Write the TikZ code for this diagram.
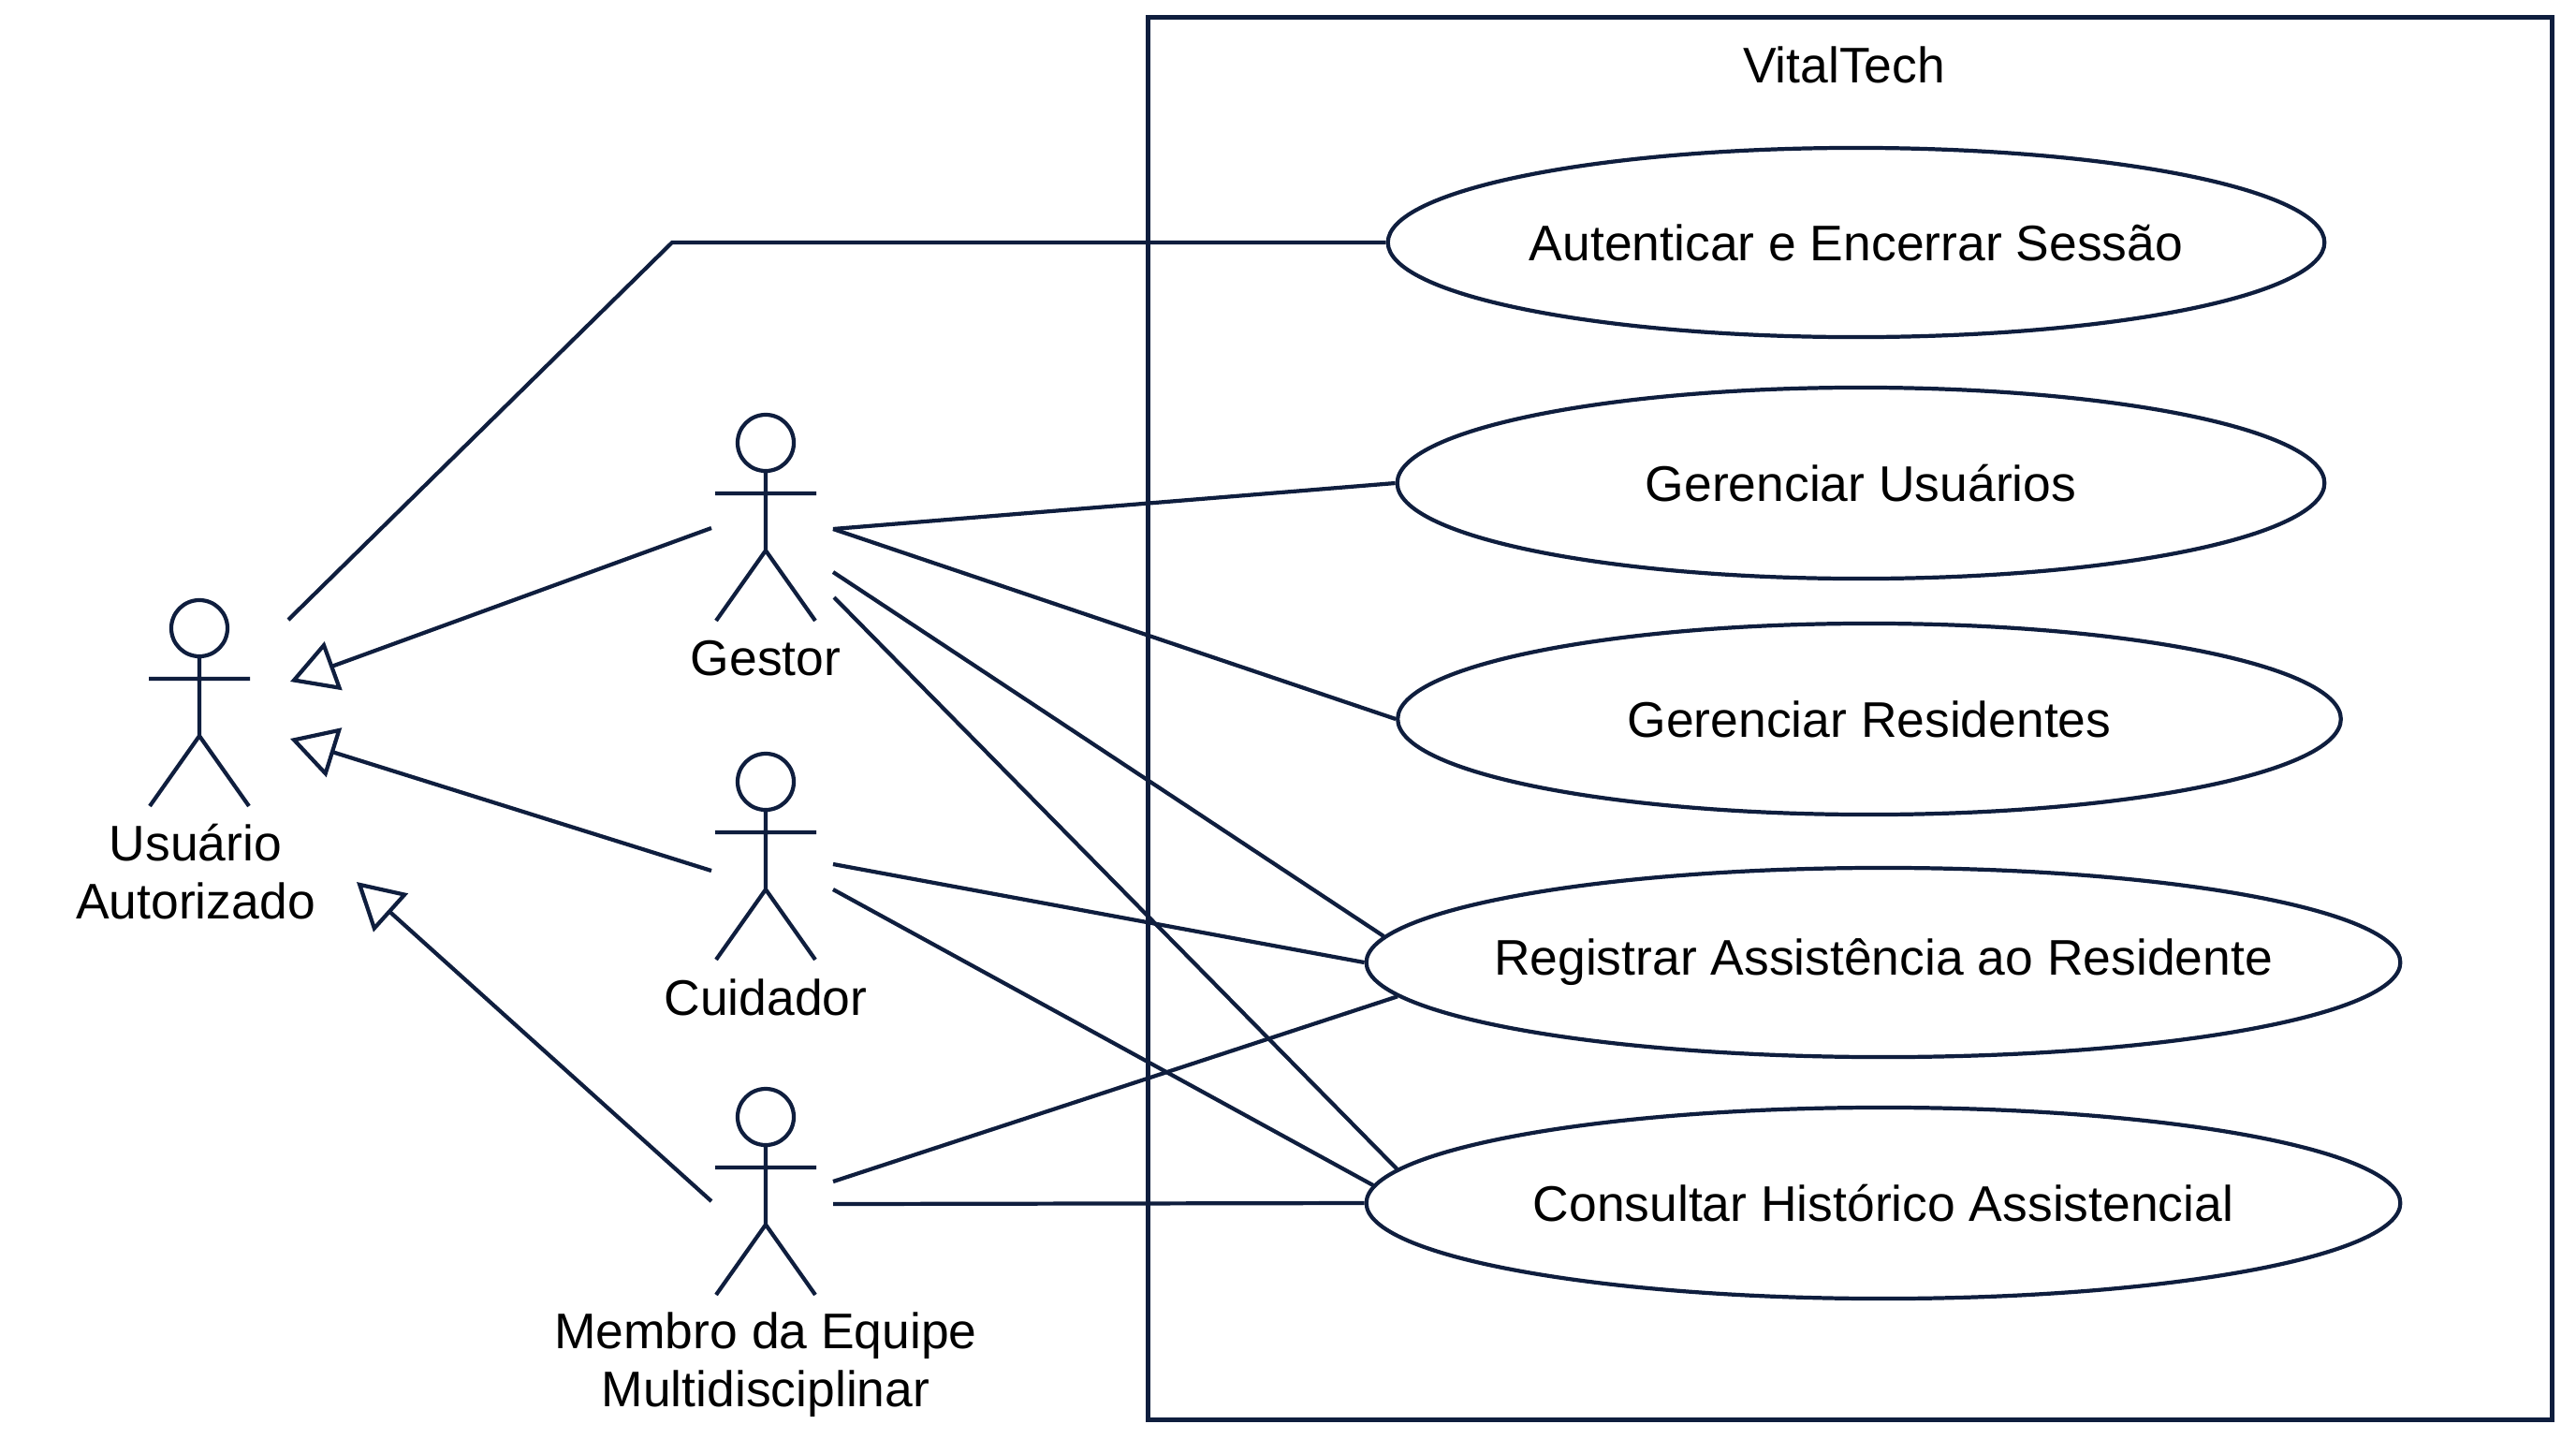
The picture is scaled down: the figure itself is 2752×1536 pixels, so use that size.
\documentclass[tikz,border=0pt]{standalone}
\usepackage{fontspec}
\setmainfont{Liberation Sans}
\usetikzlibrary{arrows.meta,shapes.geometric,calc}
\definecolor{ink}{RGB}{15,30,62}
\begin{document}
\begin{tikzpicture}[x=0.01cm,y=-0.01cm,
  txt/.style={font=\fontsize{15.2}{17.6}\selectfont, text=black, align=center, inner sep=0pt},
  uc/.style={ellipse, draw=ink, line width=1.2pt, inner xsep=-3cm, inner ysep=0pt, fill=white,
    font=\fontsize{15.2}{17.6}\selectfont, text=black},
  conn/.style={draw=ink, line width=1.2pt},
  gen/.style={conn, -{Triangle[open, length=14pt, width=15.5pt]}},
  actor/.style={minimum width=1.5cm, minimum height=2.4cm, inner sep=0pt,
    path picture={
      \draw[ink, line width=1.2pt, shift={(path picture bounding box.center)}]
        (0,-80) circle[radius=0.3cm]
        (0,-50) -- (0,35)
        (-54,-26) -- (54,-26)
        (-53,110) -- (0,35) -- (53,110);
    }},
]
\useasboundingbox (0,0) rectangle (2752,1536);
\fill[white] (0,0) rectangle (2752,1536);

% system boundary
\node[draw=ink, line width=1.2pt, minimum width=14.99cm, minimum height=14.97cm, inner sep=0pt] (sys) at (1976.5,767.5) {};
\node[txt] (title) at (1970,69) {VitalTech};

% use cases
\node[uc, minimum width=10cm,    minimum height=2.02cm] (e1) at (1983,259)  {Autenticar e Encerrar Sessão};
\node[uc, minimum width=9.9cm,   minimum height=2.04cm] (e2) at (1988,516)  {Gerenciar Usuários};
\node[uc, minimum width=10.07cm, minimum height=2.04cm] (e3) at (1997,768)  {Gerenciar Residentes};
\node[uc, minimum width=11.04cm, minimum height=2.02cm] (e4) at (2012,1028) {Registrar Assistência ao Residente};
\node[uc, minimum width=11.04cm, minimum height=2.04cm] (e5) at (2012,1285) {Consultar Histórico Assistencial};

% actors
\node[actor] (u) at (213,751) {};
\node[actor] (g) at (818,553) {};
\node[actor] (c) at (818,915) {};
\node[actor] (m) at (818,1273) {};
\node[txt] (ul) at (209,931)  {Usuário\\Autorizado};
\node[txt] (gl) at (818,703)  {Gestor};
\node[txt] (cl) at (818,1065) {Cuidador};
\node[txt] (ml) at (818,1458) {Membro da Equipe\\Multidisciplinar};

% generalizations
\draw[gen] ($(g)+(-58,11)$) -- ($(u)+(97,-23)$);
\draw[gen] ($(c)+(-58,15)$) -- ($(u)+(97,38)$);
\draw[gen] ($(m)+(-58,10)$) -- ($(u)+(168,191)$);

% associations
\coordinate (ubend) at (718,0);
\draw[conn] ($(u)+(95,-89)$) -- (ubend |- e1.west) -- (e1.west);
\draw[conn] ($(g)+(72,12)$) -- (e2.west);
\draw[conn] ($(g)+(72,12)$) -- (e3.west);
\draw[conn] ($(g)+(72,58)$) -- (e4.177);
\draw[conn] ($(g)+(73,85)$) -- (e5.176);
\draw[conn] ($(c)+(72,8)$)  -- (e4.west);
\draw[conn] ($(c)+(72,35)$) -- (e5.178);
\draw[conn] ($(m)+(72,-11)$) -- (e4.184);
\draw[conn] ($(m)+(72,13)$) -- (e5.west);
\end{tikzpicture}
\end{document}
